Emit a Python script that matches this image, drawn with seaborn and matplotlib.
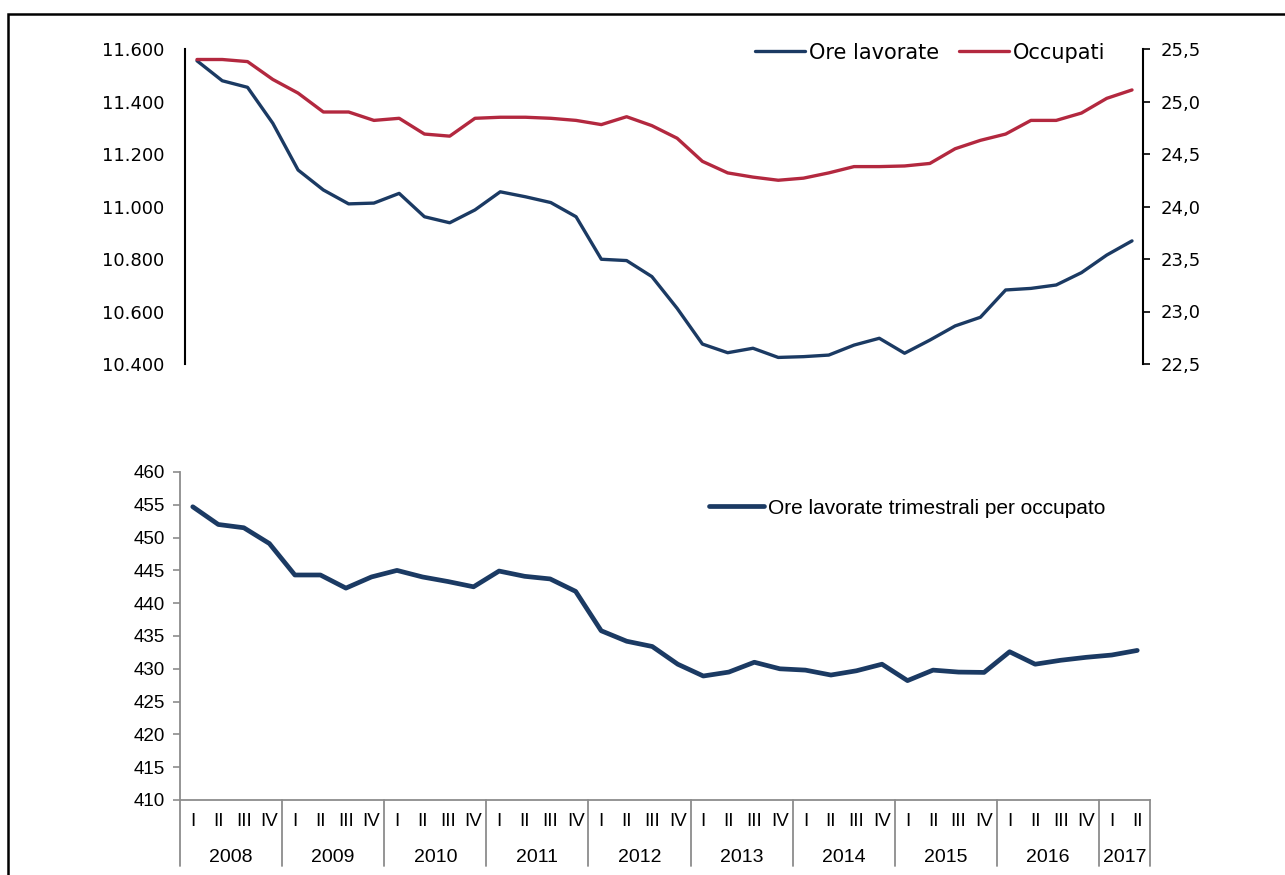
import numpy as np
import pandas as pd
import matplotlib.pyplot as plt
import matplotlib.transforms as mtransforms
from matplotlib.patches import Rectangle
import seaborn as sns

sns.set_style("white")
plt.rcParams["font.family"] = ["Liberation Sans", "DejaVu Sans"]
plt.rcParams["text.color"] = "black"
plt.rcParams["ytick.labelcolor"] = "black"
plt.rcParams["xtick.labelcolor"] = "black"

# ---- data ----
years = ["2008", "2009", "2010", "2011", "2012", "2013", "2014", "2015", "2016", "2017"]
quarters = ["I", "II", "III", "IV"]
n_quarters_last_year = 2

# ore lavorate (milioni, asse sinistro)
ore_lavorate = [11555, 11479, 11454, 11317, 11139, 11063, 11010, 11013, 11050, 10961,
                10938, 10987, 11056, 11037, 11015, 10961, 10799, 10794, 10733, 10612,
                10476, 10443, 10460, 10425, 10428, 10434, 10472, 10498, 10441, 10491,
                10545, 10578, 10682, 10688, 10701, 10748, 10815, 10869]

# occupati (milioni, asse destro)
occupati = [25.40, 25.40, 25.38, 25.21, 25.08, 24.90, 24.90, 24.82, 24.84, 24.69,
            24.67, 24.84, 24.85, 24.85, 24.84, 24.82, 24.78, 24.855, 24.77, 24.65,
            24.43, 24.32, 24.28, 24.25, 24.27, 24.32, 24.38, 24.38, 24.386, 24.41,
            24.55, 24.63, 24.69, 24.82, 24.82, 24.89, 25.03, 25.11]

# ore lavorate trimestrali per occupato
ore_per_occupato = [454.7, 452.0, 451.5, 449.1, 444.3, 444.3, 442.3, 444.0, 445.0, 444.0,
                    443.3, 442.5, 444.9, 444.1, 443.7, 441.8, 435.8, 434.2, 433.4, 430.7,
                    428.9, 429.5, 431.0, 430.0, 429.8, 429.05, 429.7, 430.7, 428.2, 429.8,
                    429.5, 429.45, 432.6, 430.7, 431.3, 431.75, 432.1, 432.8]

periods = [(y, q) for y in years[:-1] for q in quarters] + \
          [(years[-1], q) for q in quarters[:n_quarters_last_year]]
df = pd.DataFrame({
    "t": np.arange(len(periods)),
    "anno": [p[0] for p in periods],
    "trimestre": [p[1] for p in periods],
    "ore": ore_lavorate,
    "occ": occupati,
    "opo": ore_per_occupato,
})

NAVY = "#1B3A63"
RED = "#B3283F"
GRAY = "#8C8C8C"
W, H = 1285, 875

fig = plt.figure(figsize=(W / 100, H / 100), dpi=100)

# outer frame (only top and left visible in the crop)
fig.add_artist(Rectangle((8 / W, -0.2), 1.2, 1.2 - 14 / H, transform=fig.transFigure,
                         fill=False, ec="black", lw=1.8))

# ---- top panel ----
ax_top = fig.add_axes([185 / W, 1 - 364 / H, 958 / W, 315 / H])
sns.lineplot(data=df, x="t", y="ore", ax=ax_top, color=NAVY, lw=2.4, label="Ore lavorate", legend=False)
ax_r = ax_top.twinx()
sns.lineplot(data=df, x="t", y="occ", ax=ax_r, color=RED, lw=2.4, label="Occupati", legend=False)

ax_top.set_xlim(-0.475, 37.435)
ax_top.set_ylim(10400, 11600)
left_ticks = np.arange(10400, 11601, 200)
ax_top.set_yticks(left_ticks, [f"{v:,}".replace(",", ".") for v in left_ticks],
                  family="DejaVu Sans", fontsize=13)
ax_r.set_ylim(22.5, 25.5)
right_ticks = np.arange(22.5, 25.51, 0.5)
ax_r.set_yticks(right_ticks, [f"{v:.1f}".replace(".", ",") for v in right_ticks],
                family="DejaVu Sans", fontsize=13)

for a in (ax_top, ax_r):
    a.set_xlabel("")
    a.set_ylabel("")
    a.set_xticks([])
    for s in ("top", "bottom"):
        a.spines[s].set_visible(False)
ax_top.spines["right"].set_visible(False)
ax_top.spines["left"].set_color("black")
ax_top.spines["left"].set_linewidth(1.5)
ax_r.spines["left"].set_visible(False)
ax_r.spines["right"].set_visible(True)
ax_r.spines["right"].set_color("black")
ax_r.spines["right"].set_linewidth(1.5)
ax_top.tick_params(axis="y", length=0, pad=15)
ax_r.tick_params(axis="y", right=True, length=5, width=1.2, color="black", pad=8)

handles = ax_top.get_lines()[:1] + ax_r.get_lines()[:1]
ax_top.legend(handles, ["Ore lavorate", "Occupati"], loc="center left",
              bbox_to_anchor=(0.584, 0.988), ncol=2, frameon=False, borderpad=0,
              handlelength=2.4, handletextpad=0.2, columnspacing=0.95,
              prop={"family": "DejaVu Sans", "size": 15})

# ---- bottom panel ----
ax_bot = fig.add_axes([180 / W, 1 - 800 / H, 970 / W, 328 / H])
sns.lineplot(data=df, x="t", y="opo", ax=ax_bot, color=NAVY, lw=3.4,
             label="Ore lavorate trimestrali per occupato")
ax_bot.set_xlim(-0.5, len(df) - 0.5)
ax_bot.set_ylim(410, 460)
ax_bot.set_yticks(np.arange(410, 461, 5))
ax_bot.set_xticks([])
ax_bot.set_xlabel("")
ax_bot.set_ylabel("")
for s in ("top", "right"):
    ax_bot.spines[s].set_visible(False)
for s in ("left", "bottom"):
    ax_bot.spines[s].set_color(GRAY)
    ax_bot.spines[s].set_linewidth(1.3)
ax_bot.tick_params(axis="y", left=True, length=5, width=1.2, color=GRAY, pad=6, labelsize=13.5)

# multi-level category axis
trans = mtransforms.blended_transform_factory(ax_bot.transData, ax_bot.transAxes)
for t, q in zip(df["t"], df["trimestre"]):
    ax_bot.text(t, -0.067, q, transform=trans, ha="center", va="center", fontsize=13.5)
bounds = [-0.5]
for y in years:
    sub = df[df["anno"] == y]
    ax_bot.text(sub["t"].mean(), -0.174, y, transform=trans, ha="center", va="center", fontsize=14)
    bounds.append(sub["t"].max() + 0.5)
for b in bounds:
    ax_bot.plot([b, b], [0, -0.201], transform=trans, color=GRAY, lw=1.3, clip_on=False)

ax_bot.legend(loc="center left", bbox_to_anchor=(0.535, 0.89), frameon=False, borderpad=0,
              handlelength=2.6, handletextpad=0.2, fontsize=15)

fig.savefig("out.png", dpi=100)
